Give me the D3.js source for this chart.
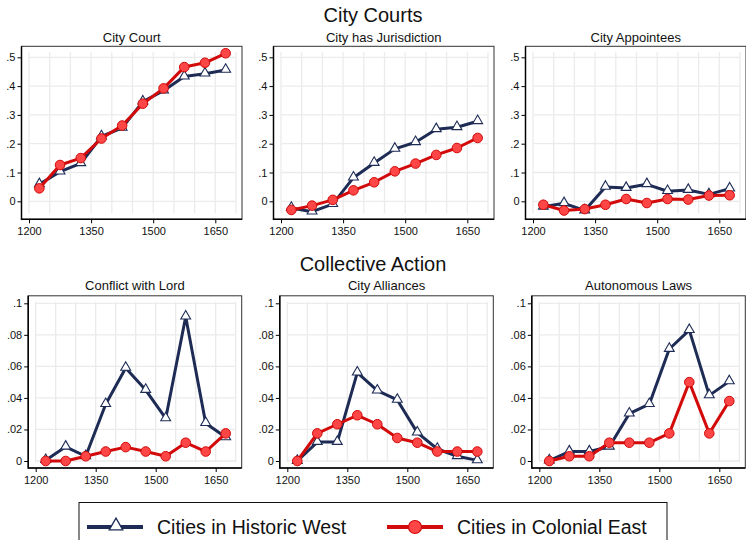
<!DOCTYPE html>
<html>
<head>
<meta charset="utf-8">
<script src="https://cdn.jsdelivr.net/npm/d3@7"></script>
<style>
  body { margin: 0; background: #fff; }
  svg { display: block; font-family: "Liberation Sans", Arial, sans-serif; }
</style>
</head>
<body>
<svg id="chart"></svg>
<script>
// decades (mid points of 50-year bins)
var years = [1225, 1275, 1325, 1375, 1425, 1475, 1525, 1575, 1625, 1675];
var xTicks = [1200, 1350, 1500, 1650];
var gridYears = [1200, 1250, 1300, 1350, 1400, 1450, 1500, 1550, 1600, 1650, 1700];

var topTicks = [0, 0.1, 0.2, 0.3, 0.4, 0.5];
var bottomTicks = [0, 0.02, 0.04, 0.06, 0.08, 0.1];

var topTitles = ["City Court", "City has Jurisdiction", "City Appointees"];
var bottomTitles = ["Conflict with Lord", "City Alliances", "Autonomous Laws"];

// City Courts
var courtWest = [0.059, 0.103, 0.132, 0.225, 0.255, 0.346, 0.384, 0.433, 0.443, 0.456];
var courtEast = [0.045, 0.126, 0.150, 0.218, 0.263, 0.339, 0.392, 0.466, 0.481, 0.514];
var jurisWest = [-0.023, -0.036, -0.010, 0.082, 0.133, 0.182, 0.205, 0.250, 0.257, 0.278];
var jurisEast = [-0.030, -0.015, 0.005, 0.038, 0.066, 0.104, 0.131, 0.161, 0.185, 0.220];
var appointWest = [-0.019, -0.007, -0.032, 0.050, 0.046, 0.059, 0.035, 0.039, 0.024, 0.044];
var appointEast = [-0.012, -0.032, -0.027, -0.012, 0.008, -0.006, 0.008, 0.006, 0.020, 0.021];

// Collective Action
var conflictWest = [0.0005, 0.009, 0.003, 0.036, 0.059, 0.045, 0.027, 0.0915, 0.024, 0.015];
var conflictEast = [0, 0, 0.003, 0.006, 0.0088, 0.006, 0.003, 0.0116, 0.006, 0.0175];
var allianceWest = [0, 0.012, 0.012, 0.056, 0.0446, 0.0387, 0.018, 0.0076, 0.003, 0.0004];
var allianceEast = [0, 0.0175, 0.0233, 0.029, 0.0233, 0.0146, 0.0116, 0.006, 0.006, 0.006];
var lawsWest = [0.0003, 0.006, 0.006, 0.009, 0.030, 0.036, 0.071, 0.083, 0.0416, 0.0505];
var lawsEast = [0, 0.003, 0.003, 0.0116, 0.0116, 0.0116, 0.0175, 0.050, 0.0175, 0.038];

var legendLabels = ["Cities in Historic West", "Cities in Colonial East"];

var navy = "#1d2b55", red = "#d20a0a", redFill = "#ff4646";

var svg = d3.select("#chart").attr("width", 746).attr("height", 540);

function fmt(v) {
  if (v == 0) return "0";
  return String(+v.toFixed(2)).replace(/^0\./, ".");
}

var rows = [
  { title: "City Courts", titleY: 22, titles: topTitles, ticks: topTicks,
    west: [courtWest, jurisWest, appointWest], east: [courtEast, jurisEast, appointEast],
    x0s: [29, 281, 533], w: 207, yZero: 201.3, yTop: 57.3, padTop: 11, padBot: 18, subY: 42 },
  { title: "Collective Action", titleY: 271, titles: bottomTitles, ticks: bottomTicks,
    west: [conflictWest, allianceWest, lawsWest], east: [conflictEast, allianceEast, lawsEast],
    x0s: [35.7, 287.3, 539.3], w: 200, yZero: 461, yTop: 303.3, padTop: 7.5, padBot: 7, subY: 290 }
];

rows.forEach(function(row) {
  svg.append("text")
    .attr("x", 373).attr("y", row.titleY)
    .attr("text-anchor", "middle")
    .attr("font-size", 20).attr("fill", "#111")
    .text(row.title);

  row.titles.forEach(function(t, i) {
    var x = d3.scaleLinear().domain([1200, 1700]).range([row.x0s[i], row.x0s[i] + row.w]);
    var y = d3.scaleLinear().domain([0, d3.max(row.ticks)]).range([row.yZero, row.yTop]);
    var left = x(1200) - 7.5, right = x(1700) + 6;
    var top = y(d3.max(row.ticks)) - row.padTop, bottom = y(0) + row.padBot;
    var g = svg.append("g");

    // panel subtitle
    g.append("text")
      .attr("x", (left + right) / 2).attr("y", row.subY)
      .attr("text-anchor", "middle")
      .attr("font-size", 13).attr("fill", "#111")
      .text(t);

    // grid
    g.append("g").selectAll("line").data(gridYears).enter().append("line")
      .attr("x1", function(d) { return x(d); }).attr("x2", function(d) { return x(d); })
      .attr("y1", top + 6).attr("y2", bottom - 6)
      .attr("stroke", "#ebebeb").attr("stroke-width", 1.3);
    g.append("g").selectAll("line").data(row.ticks).enter().append("line")
      .attr("x1", x(1200)).attr("x2", x(1700))
      .attr("y1", function(d) { return y(d); }).attr("y2", function(d) { return y(d); })
      .attr("stroke", "#ebebeb").attr("stroke-width", 1.3);

    // frame
    g.append("rect")
      .attr("x", left).attr("y", top)
      .attr("width", right - left).attr("height", bottom - top)
      .attr("fill", "none").attr("stroke", "#333").attr("stroke-width", 1);

    // axes
    var ya = g.append("g")
      .attr("transform", "translate(" + left + ",0)")
      .call(d3.axisLeft(y).tickValues(row.ticks).tickFormat(fmt).tickSize(4).tickPadding(2));
    var xa = g.append("g")
      .attr("transform", "translate(0," + bottom + ")")
      .call(d3.axisBottom(x).tickValues(xTicks).tickFormat(d3.format("d")).tickSize(4).tickPadding(4));
    [ya, xa].forEach(function(a) {
      a.select(".domain").remove();
      a.selectAll("text").attr("font-size", 11).attr("font-family", "Liberation Sans, Arial, sans-serif").attr("fill", "#111");
      a.selectAll("line").attr("stroke", "#000");
    });
    g.append("line").attr("x1", left).attr("x2", left).attr("y1", top).attr("y2", bottom + 0.75)
      .attr("stroke", "#000").attr("stroke-width", 1.5);
    g.append("line").attr("x1", left).attr("x2", right).attr("y1", bottom).attr("y2", bottom)
      .attr("stroke", "#000").attr("stroke-width", 1.5);

    var line = d3.line()
      .x(function(d, j) { return x(years[j]); })
      .y(function(d) { return y(d); });

    // West: navy with hollow triangles
    g.append("path").datum(row.west[i])
      .attr("fill", "none").attr("stroke", navy).attr("stroke-width", 3)
      .attr("stroke-linejoin", "round").attr("d", line);
    g.append("g").selectAll("path").data(row.west[i]).enter().append("path")
      .attr("d", d3.symbol().type(d3.symbolTriangle).size(42))
      .attr("transform", function(d, j) { return "translate(" + x(years[j]) + "," + (y(d) - 0.5) + ")"; })
      .attr("fill", "#fff").attr("stroke", navy).attr("stroke-width", 1.1);

    // East: red with filled circles
    g.append("path").datum(row.east[i])
      .attr("fill", "none").attr("stroke", red).attr("stroke-width", 3)
      .attr("stroke-linejoin", "round").attr("d", line);
    g.append("g").selectAll("circle").data(row.east[i]).enter().append("circle")
      .attr("cx", function(d, j) { return x(years[j]); })
      .attr("cy", function(d) { return y(d); })
      .attr("r", 4.8)
      .attr("fill", redFill).attr("stroke", red).attr("stroke-width", 1);
  });
});

// legend
var lg = svg.append("g");
lg.append("rect").attr("x", 79).attr("y", 502.5).attr("width", 588).attr("height", 50)
  .attr("fill", "#fff").attr("stroke", "#111").attr("stroke-width", 1);

var keyX = [87, 387];
legendLabels.forEach(function(lbl, i) {
  var k = lg.append("g");
  k.append("line").attr("x1", keyX[i]).attr("x2", keyX[i] + 56).attr("y1", 527).attr("y2", 527)
    .attr("stroke", i == 0 ? navy : red).attr("stroke-width", 4);
  if (i == 0) {
    k.append("path").attr("d", d3.symbol().type(d3.symbolTriangle).size(80))
      .attr("transform", "translate(" + (keyX[i] + 29) + ",526)")
      .attr("fill", "#fff").attr("stroke", navy).attr("stroke-width", 1.3);
  } else {
    k.append("circle").attr("cx", keyX[i] + 28).attr("cy", 527).attr("r", 6.5)
      .attr("fill", redFill).attr("stroke", red).attr("stroke-width", 1.2);
  }
  k.append("text").attr("x", keyX[i] + 70).attr("y", 533.5)
    .attr("font-size", 19.5).attr("fill", "#111").text(lbl);
});
</script>
</body>
</html>
